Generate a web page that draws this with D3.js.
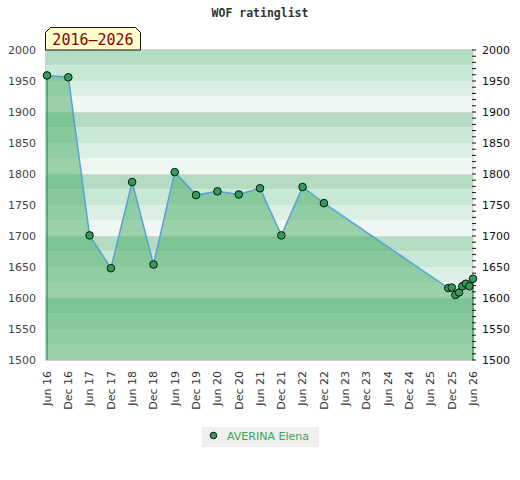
<!DOCTYPE html>
<html>
<head>
<meta charset="utf-8">
<script src="https://cdn.jsdelivr.net/npm/d3@7"></script>
<style>
  body { margin: 0; background: #fff; }
  svg { display: block; }
</style>
</head>
<body>
<svg id="drawing_region"></svg>
<script>
// rating list data
const ratingDates = ["2016-06", "2016-12", "2017-06", "2017-12", "2018-06", "2018-12", "2019-06", "2019-12",
    "2020-06", "2020-12", "2021-06", "2021-12", "2022-06", "2022-12", "2025-11", "2025-12",
    "2026-01", "2026-02", "2026-03", "2026-04", "2026-05", "2026-06"];
const ratings = [1959, 1956, 1701, 1648, 1787, 1654, 1803, 1766,
    1772, 1767, 1777, 1701, 1779, 1753, 1616, 1617,
    1605, 1609, 1619, 1623, 1619, 1631];
const playerName = "AVERINA Elena";
const periodLabel = "2016\u20132026";
const chartTitle = "WOF ratinglist";
const yLabelTicks = [1500, 1550, 1600, 1650, 1700, 1750, 1800, 1850, 1900, 1950, 2000];
const xTickDates = ["2016-06", "2016-12", "2017-06", "2017-12", "2018-06", "2018-12", "2019-06", "2019-12",
    "2020-06", "2020-12", "2021-06", "2021-12", "2022-06", "2022-12", "2023-06", "2023-12",
    "2024-06", "2024-12", "2025-06", "2025-12", "2026-06"];

const parseMonth = d3.timeParse("%Y-%m");
const data = ratingDates.map((d, i) => ({ date: parseMonth(d), value: ratings[i] }));

const width = 520, height = 480;
const plot = { left: 47, right: 473, top: 50, bottom: 360 };

const svg = d3.select('#drawing_region')
    .attr('width', width)
    .attr('height', height);

const x = d3.scaleTime()
    .domain([parseMonth(xTickDates[0]), parseMonth(xTickDates[xTickDates.length - 1])])
    .range([plot.left, plot.right]);

const y = d3.scaleLinear()
    .domain([1500, 2000])
    .range([plot.bottom, plot.top]);

// background bands every 25 points, shade repeats per hundred
const bandColors = ["#b3dcc3", "#c9e7d5", "#dcefe4", "#eff7f2"];
const bands = [];
for (let v = 2000; v > 1500; v -= 25) bands.push(v);
svg.append('g').selectAll('rect').data(bands).join('rect')
    .attr('x', plot.left - 1)
    .attr('width', plot.right - plot.left + 1)
    .attr('y', d => y(d))
    .attr('height', d => y(d - 25) - y(d))
    .attr('fill', d => bandColors[((2000 - d) / 25) % 4]);

svg.append('g').selectAll('line').data([1900, 1800, 1700, 1600]).join('line')
    .attr('x1', plot.left - 1).attr('x2', plot.right)
    .attr('y1', d => y(d) + 0.5).attr('y2', d => y(d) + 0.5)
    .attr('stroke', '#d6d6d6');

svg.append('rect')
    .attr('x', plot.left - 1.5).attr('y', plot.top - 0.5)
    .attr('width', plot.right - plot.left + 1.5).attr('height', plot.bottom - plot.top + 1)
    .attr('fill', 'none')
    .attr('stroke', '#d0d0d0');

// area under the rating line
const area = d3.area()
    .x(d => x(d.date))
    .y0(y(1500))
    .y1(d => y(d.value));

svg.append('path')
    .datum(data)
    .attr('d', area)
    .attr('fill', 'rgba(70,172,100,0.5)');

const first = data[0], last = data[data.length - 1];
svg.append('g').selectAll('line').data([first, last]).join('line')
    .attr('x1', d => x(d.date)).attr('x2', d => x(d.date))
    .attr('y1', d => y(d.value)).attr('y2', y(1500))
    .attr('stroke', '#3b9e5c')
    .attr('stroke-width', 1.5);

const line = d3.line()
    .x(d => x(d.date))
    .y(d => y(d.value));

svg.append('path')
    .datum(data)
    .attr('d', line)
    .attr('fill', 'none')
    .attr('stroke', '#5aa0d8')
    .attr('stroke-width', 1.5);

// right axis: minor ticks every 10
const minorTicks = [];
for (let v = 1500; v <= 2000; v += 10) minorTicks.push(v);
svg.append('g').selectAll('line').data(minorTicks).join('line')
    .attr('x1', plot.right - 1).attr('x2', plot.right + 3)
    .attr('y1', d => y(d)).attr('y2', d => y(d))
    .attr('stroke', '#111')
    .attr('stroke-width', 1);

svg.append('g').selectAll('circle').data(data).join('circle')
    .attr('cx', d => x(d.date))
    .attr('cy', d => y(d.value))
    .attr('r', 3.8)
    .attr('fill', '#2f9e59')
    .attr('stroke', '#111')
    .attr('stroke-width', 1);

// y labels on both sides
svg.append('g').selectAll('text').data(yLabelTicks).join('text')
    .attr('x', 36)
    .attr('y', d => y(d))
    .attr('dy', '0.35em')
    .attr('text-anchor', 'end')
    .attr('font-family', 'DejaVu Sans')
    .attr('font-size', 11)
    .attr('fill', '#444')
    .text(d => d);

svg.append('g').selectAll('text').data(yLabelTicks).join('text')
    .attr('x', 482)
    .attr('y', d => y(d))
    .attr('dy', '0.35em')
    .attr('text-anchor', 'start')
    .attr('font-family', 'DejaVu Sans')
    .attr('font-size', 11)
    .attr('fill', '#111')
    .text(d => d);

// x labels, rotated
const fmt = d3.timeFormat("%b %y");
svg.append('g').selectAll('text').data(xTickDates).join('text')
    .attr('transform', d => `translate(${x(parseMonth(d))},371) rotate(-90)`)
    .attr('dy', '0.35em')
    .attr('text-anchor', 'end')
    .attr('font-family', 'DejaVu Sans')
    .attr('font-size', 11)
    .attr('fill', '#333')
    .text(d => fmt(parseMonth(d)));

// title
svg.append('text')
    .attr('x', 260).attr('y', 17)
    .attr('text-anchor', 'middle')
    .attr('font-family', 'DejaVu Sans Mono')
    .attr('font-weight', 'bold')
    .attr('font-size', 11.5)
    .attr('fill', '#333')
    .text(chartTitle);

// period label box
svg.append('path')
    .attr('d', 'M45.5,50 L45.5,32.5 L50.5,27.5 L135.5,27.5 L140.5,32.5 L140.5,50 Z')
    .attr('fill', '#ffffcc')
    .attr('stroke', '#111');
svg.append('text')
    .attr('x', 93).attr('y', 45)
    .attr('text-anchor', 'middle')
    .attr('font-family', 'DejaVu Sans Mono')
    .attr('font-size', 15)
    .attr('fill', '#8b0000')
    .text(periodLabel);

// legend
const legend = svg.append('g');
legend.append('rect')
    .attr('x', 202).attr('y', 427)
    .attr('width', 117).attr('height', 20)
    .attr('fill', '#efefef');
legend.append('circle')
    .attr('cx', 213.5).attr('cy', 435.5)
    .attr('r', 3.3)
    .attr('fill', '#2f9e59')
    .attr('stroke', '#111');
legend.append('text')
    .attr('x', 227).attr('y', 440)
    .attr('font-family', 'DejaVu Sans')
    .attr('font-size', 11)
    .attr('fill', '#3aa55c')
    .text(playerName);
</script>
</body>
</html>
